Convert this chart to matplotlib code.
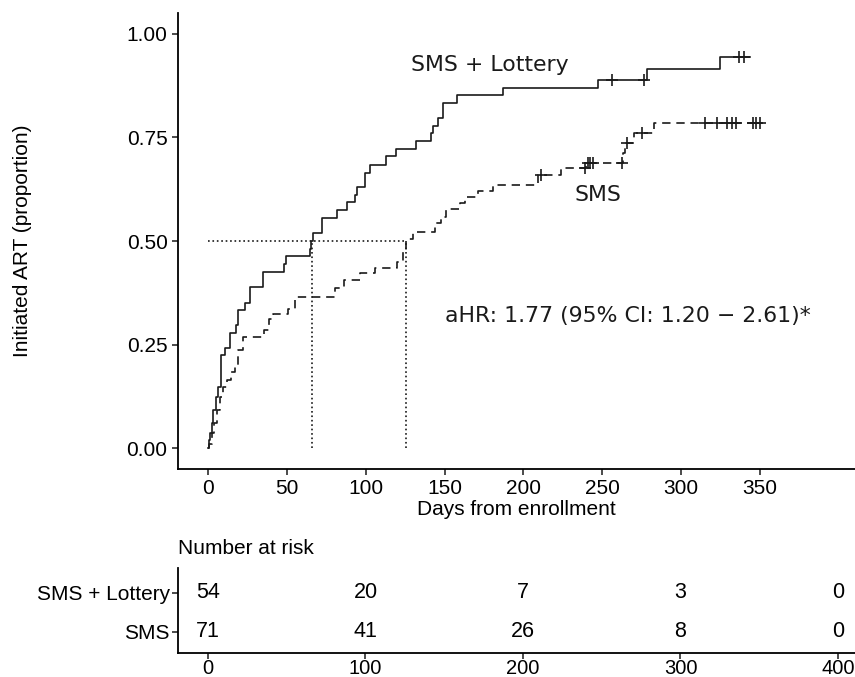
import numpy as np
import matplotlib.pyplot as plt

# cumulative proportion initiating ART
lottery_t = [0, 0.5, 1.5, 2.5, 3.2, 5.0, 6.3, 8.2, 10.8, 13.8, 17.5, 19.2, 23.5, 26.6,
             34.7, 48.4, 49.3, 64.7, 65.5, 66.3, 72, 81.6, 88, 93.5, 94.5, 99.6,
             102.7, 112.9, 119, 132, 141.4, 143, 146, 148.8, 158, 187, 247.5,
             278.3, 325, 343.7]
lottery_p = [0, 0.02, 0.037, 0.06, 0.092, 0.124, 0.148, 0.225, 0.241, 0.277, 0.297,
             0.333, 0.35, 0.39, 0.426, 0.444, 0.464, 0.48, 0.50, 0.52, 0.556, 0.575,
             0.593, 0.612, 0.631, 0.664, 0.684, 0.704, 0.722, 0.741, 0.76, 0.778,
             0.796, 0.833, 0.853, 0.87, 0.889, 0.915, 0.944, 0.944]
lottery_cens_t = [256.3, 276.6, 336.7, 340.2]
lottery_cens_p = [0.889, 0.889, 0.944, 0.944]

sms_t = [0, 0.6, 2.3, 4.0, 5.5, 7.6, 9.7, 11.8, 14.6, 17.1, 19.2, 22.4, 35.5, 39.0,
         41.5, 51, 55.5, 80.5, 86, 96.4, 106, 119.6, 123.5, 125.6, 130, 144, 148,
         151, 160, 163, 171.4, 181, 209.5, 224, 240, 263.5, 264.5, 270, 283, 352]
sms_p = [0, 0.01, 0.036, 0.06, 0.092, 0.123, 0.147, 0.164, 0.184, 0.196, 0.237,
         0.269, 0.285, 0.313, 0.325, 0.337, 0.365, 0.386, 0.407, 0.423, 0.434,
         0.45, 0.475, 0.505, 0.521, 0.543, 0.559, 0.577, 0.591, 0.607, 0.621,
         0.634, 0.66, 0.676, 0.688, 0.712, 0.736, 0.76, 0.784, 0.784]
sms_cens_t = [211.5, 239.0, 241.0, 242.5, 244.0, 262.3, 265.5, 275.5,
              315, 323, 329, 332, 335, 345.4, 347.5, 350]
sms_cens_p = [0.66, 0.676, 0.688, 0.688, 0.688, 0.688, 0.736, 0.76,
              0.784, 0.784, 0.784, 0.784, 0.784, 0.784, 0.784, 0.784]

# medians (days)
median_lottery = 66
median_sms = 125.6

# number at risk table
risk_times = [0, 100, 200, 300, 400]
risk_lottery = [54, 20, 7, 3, 0]
risk_sms = [71, 41, 26, 8, 0]
groups = ["SMS", "SMS + Lottery"]

plt.rcParams["font.family"] = ["Liberation Sans", "DejaVu Sans"]
ink = "#1a1a1a"

fig = plt.figure(figsize=(8.55, 6.77), dpi=100)
W, H = 855, 677
ax = fig.add_axes([178 / W, 1 - 469 / H, (W - 178) / W, (469 - 13) / H])

ax.step(lottery_t, lottery_p, where="post", color=ink, lw=1.2)
ax.plot(lottery_cens_t, lottery_cens_p, "+", color=ink, ms=8, mew=1.2)
ax.step(sms_t, sms_p, where="post", color=ink, lw=1.2, dashes=(5, 3.5))
ax.plot(sms_cens_t, sms_cens_p, "+", color=ink, ms=8, mew=1.2)

# median guide lines
ax.plot([0, median_sms], [0.5, 0.5], ls=":", color=ink, lw=1.2)
ax.plot([median_lottery, median_lottery], [0, 0.5], ls=":", color=ink, lw=1.2)
ax.plot([median_sms, median_sms], [0, 0.5], ls=":", color=ink, lw=1.2)

ax.text(179, 0.925, "SMS + Lottery", ha="center", va="center", fontsize=15.8,
        family="DejaVu Sans", color=ink)
ax.text(247, 0.61, "SMS", ha="center", va="center", fontsize=15.8,
        family="DejaVu Sans", color=ink)
ax.text(150, 0.32, "aHR: 1.77 (95% CI: 1.20 \u2212 2.61)*", ha="left", va="center",
        fontsize=15.8, family="DejaVu Sans", color=ink)

ax.set_xlim(-19, 410.3)
ax.set_ylim(-0.05, 1.05)
ax.set_xticks(np.arange(0, 351, 50))
ax.set_yticks([0, 0.25, 0.5, 0.75, 1.0])
ax.set_yticklabels(["0.00", "0.25", "0.50", "0.75", "1.00"])
ax.set_xlabel("Days from enrollment", fontsize=15, labelpad=1)
ax.set_ylabel("Initiated ART (proportion)", fontsize=15)
ax.yaxis.set_label_coords(-0.216, 0.5)

ax.spines["top"].set_visible(False)
ax.spines["right"].set_visible(False)
ax.spines["left"].set_linewidth(1.3)
ax.spines["bottom"].set_linewidth(1.3)
ax.tick_params(labelsize=15, length=4, width=1.1, colors=ink, labelcolor="black")

# risk table
tab = fig.add_axes([178 / W, 1 - 653 / H, (W - 178) / W, (653 - 568) / H])
for i, t in enumerate(risk_times):
    tab.text(t, 2, str(risk_lottery[i]), ha="center", va="center", fontsize=15.5)
    tab.text(t, 1, str(risk_sms[i]), ha="center", va="center", fontsize=15.5)
tab.set_xlim(-19.05, 410.8)
tab.set_ylim(0.46, 2.64)
tab.set_xticks(risk_times)
tab.set_yticks([1, 2])
tab.set_yticklabels(groups)
tab.spines["top"].set_visible(False)
tab.spines["right"].set_visible(False)
tab.spines["left"].set_linewidth(1.3)
tab.spines["bottom"].set_linewidth(1.3)
tab.tick_params(axis="x", labelsize=14.5, length=4, width=1.1, colors=ink,
                labelcolor="black", pad=0.5)
tab.tick_params(axis="y", labelsize=15, length=4, width=1.1, colors=ink,
                labelcolor="black", pad=2)
tab.set_title("Number at risk", loc="left", fontsize=15, pad=10)

fig.savefig("out.png", dpi=100)
